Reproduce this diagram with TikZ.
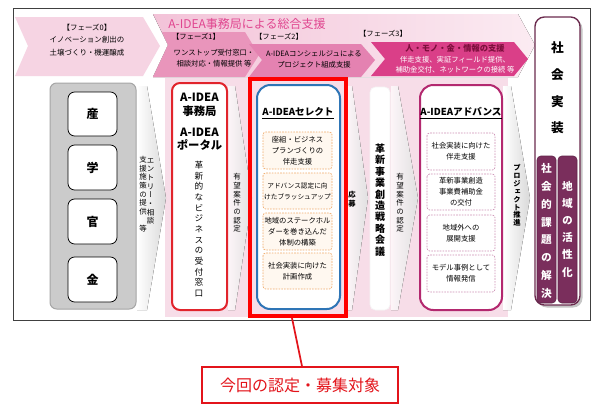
\documentclass[tikz,border=0pt]{standalone}
\usepackage{fontspec}
\setmainfont{Noto Sans CJK JP}
\newfontfamily\vjp[RawFeature=+vert]{Noto Sans CJK JP}

\definecolor{frameln}{HTML}{404040}
\definecolor{phzeropink}{HTML}{F6D4E3}
\definecolor{bannerL}{HTML}{F3C3D8}
\definecolor{bannerR}{HTML}{FBEBF2}
\definecolor{phonepink}{HTML}{E995BB}
\definecolor{phtwopink}{HTML}{E482B1}
\definecolor{phthreepink}{HTML}{DA3F88}
\definecolor{phthreedark}{HTML}{7C0F3C}
\definecolor{titlepink}{HTML}{E0458F}
\definecolor{bgpink}{HTML}{F7DDE8}
\definecolor{greybox}{HTML}{CBCBCB}
\definecolor{greyline}{HTML}{A5A5A5}
\definecolor{jimured}{HTML}{E1242C}
\definecolor{selblue}{HTML}{2E75B6}
\definecolor{seldash}{HTML}{F0AA6A}
\definecolor{selfill}{HTML}{FFF8F0}
\definecolor{advmag}{HTML}{B3286F}
\definecolor{advdash}{HTML}{CC8EB4}
\definecolor{implline}{HTML}{6B2B4E}
\definecolor{implfill}{HTML}{7A2E5C}
\definecolor{hlred}{HTML}{FF0000}
\definecolor{callred}{HTML}{E3141B}

\tikzset{
  ptxt/.style={inner sep=0.75pt, align=center, font=\fontsize{5.5}{8.2}\selectfont},
  vtxt/.style={inner sep=0.75pt, align=center, font=\vjp\fontsize{5.6}{6.5}\selectfont},
  boxtxt/.style={inner sep=0.75pt, align=center, font=\fontsize{5.5}{8.2}\selectfont},
  sepwhite/.style={left color=white, right color=gray!30},
  seppink/.style={left color=white!70!bgpink, right color=gray!24},
  dashbox/.style={rounded corners=2pt, dash pattern=on 1.2pt off 0.9pt, line width=0.5},
}

\begin{document}
\begin{tikzpicture}[x=0.75pt,y=0.75pt,yscale=-1,xscale=1]
\path[use as bounding box, fill=white] (0,0) rectangle (600,411);

%Shape: Rectangle (frame)
\draw[color=frameln, line width=0.75] (13,8) rectangle (590,320);

%Shape: Polygon (phase 0)
\fill[phzeropink] (15,17) -- (143,17) -- (160,46) -- (143,76) -- (15,76) -- (28,46) -- cycle;
%Shape: Polygon (banner)
\fill[left color=bannerL, right color=bannerR] (153,14) -- (518,14) -- (535,45) -- (518,77) -- (153,77) -- (168,45) -- cycle;
%Shape: Polygon (phase 1)
\fill[phonepink] (162,32) -- (245,32) -- (259,55) -- (245,77) -- (153,77) -- (168,45) -- cycle;
%Shape: Polygon (phase 2)
\fill[phtwopink] (249,44) -- (361,44) -- (375,60) -- (361,77) -- (249,77) -- (262,60) -- cycle;
%Shape: Polygon (phase 3)
\fill[phthreepink] (371,42) -- (514,42) -- (528,59) -- (514,76) -- (371,76) -- (385,59) -- cycle;

% Text Node
\draw (247,24) node (bannertitle) [inner sep=0.75pt, font=\fontsize{9}{10}\selectfont, text=titlepink] {A-IDEA事務局による総合支援};
% Text Node
\draw (87,40) node (phzerotxt) [ptxt, font=\fontsize{5.6}{9.3}\selectfont] {【フェーズ0】\\イノベーション創出の\\土壌づくり・機運醸成};
% Text Node
\draw (196,37) node (phonelbl) [ptxt] {【フェーズ1】};
% Text Node
\draw (214,58.5) node (phonetxt) [ptxt] {ワンストップ受付窓口・\\相談対応・情報提供 等};
% Text Node
\draw (279,37) node (phtwolbl) [ptxt] {【フェーズ2】};
% Text Node
\draw (314,59.5) node (phtwotxt) [ptxt] {A-IDEAコンシェルジュによる\\プロジェクト組成支援};
% Text Node
\draw (383,34) node (phthreelbl) [ptxt] {【フェーズ3】};
% Text Node
\draw (455,48) node (phthreehead) [ptxt, text=phthreedark, font=\bfseries\fontsize{6.2}{7}\selectfont] {人・モノ・金・情報の支援};
% Text Node
\draw (455,65) node (phthreetxt) [ptxt, text=white, font=\fontsize{5.5}{7.5}\selectfont] {伴走支援、実証フィールド提供、\\補助金交付、ネットワークの接続 等};

%Shape: Rectangle (pink ground)
\fill[bgpink] (165,78) rectangle (508,317);

%Shape: Polygon (step arrows)
\fill[sepwhite] (137,86) -- (147,86) -- (166,198) -- (147,310) -- (137,310) -- cycle;
\fill[seppink] (228,86) -- (235,86) -- (252,198) -- (235,310) -- (228,310) -- cycle;
\fill[seppink] (347,86) -- (352,86) -- (368,198) -- (352,310) -- (347,310) -- cycle;
\fill[seppink] (391,86) -- (398,86) -- (418,198) -- (398,310) -- (391,310) -- cycle;
\fill[sepwhite] (503,86) -- (511,86) -- (530,198) -- (511,310) -- (503,310) -- cycle;

%Shape: Rectangle (sangakukankin)
\draw[fill=greybox, draw=greyline, line width=0.75, rounded corners=5pt] (50,83) rectangle (136,309);
\draw[fill=white, line width=0.6, rounded corners=5pt] (68,92) rectangle (117,136);
\draw[fill=white, line width=0.6, rounded corners=5pt] (68,145) rectangle (117,190);
\draw[fill=white, line width=0.6, rounded corners=5pt] (68,199) rectangle (117,244);
\draw[fill=white, line width=0.6, rounded corners=5pt] (68,257) rectangle (117,302);
% Text Node
\draw (92.5,114) node (san) [font=\bfseries\fontsize{9}{10}\selectfont] {産};
% Text Node
\draw (92.5,167.5) node (gaku) [font=\bfseries\fontsize{9}{10}\selectfont] {学};
% Text Node
\draw (92.5,221.5) node (kan) [font=\bfseries\fontsize{9}{10}\selectfont] {官};
% Text Node
\draw (92.5,279.5) node (kin) [font=\bfseries\fontsize{9}{10}\selectfont] {金};

% Text Node
\draw (150.5,157) node (entry) [vtxt, anchor=north] {エ\\ン\\ト\\リ\\ー\\・\\相\\談};
% Text Node
\draw (143,155) node (shisaku) [vtxt, anchor=north] {支\\援\\施\\策\\の\\提\\供\\　\\等};

%Shape: Rectangle (jimukyoku)
\draw[fill=white, draw=jimured, line width=1.5, rounded corners=6pt] (172,83) rectangle (227,310);
% Text Node
\draw (199.5,105) node (jimu) [inner sep=0.75pt, align=center, font=\bfseries\fontsize{8.5}{10.5}\selectfont] {A-IDEA\\事務局};
% Text Node
\draw (199.5,139.5) node (portal) [inner sep=0.75pt, align=center, font=\bfseries\fontsize{8.5}{10}\selectfont] {A-IDEA\\ポータル};
% Text Node
\draw (199,229) node (madoguchi) [vtxt, font=\vjp\fontsize{6.5}{8}\selectfont] {革\\新\\的\\な\\ビ\\ジ\\ネ\\ス\\の\\受\\付\\窓\\口};

% Text Node
\draw (237,203) node (ninteione) [vtxt] {有\\望\\案\\件\\の\\認\\定};

%Shape: Rectangle (select)
\draw[fill=white, draw=selblue, line width=1.5, rounded corners=10pt] (257,85) rectangle (340,309);
% Text Node
\draw (298,113) node (seltitle) [inner sep=0.75pt, font=\bfseries\fontsize{7.2}{8}\selectfont] {\underline{A-IDEAセレクト}};
\draw[dashbox, draw=seldash, fill=selfill] (263,132) rectangle (332,169);
\draw[dashbox, draw=seldash, fill=selfill] (263,173) rectangle (332,209);
\draw[dashbox, draw=seldash, fill=selfill] (263,213) rectangle (332,250);
\draw[dashbox, draw=seldash, fill=selfill] (263,253) rectangle (332,289);
% Text Node
\draw (297.5,150.5) node (selone) [boxtxt] {座組・ビジネス\\プランづくりの\\伴走支援};
% Text Node
\draw (297.5,191) node (seltwo) [boxtxt, font=\fontsize{5}{8.2}\selectfont] {アドバンス認定に向\\けたブラッシュアップ};
% Text Node
\draw (297.5,231.5) node (selthree) [boxtxt] {地域のステークホル\\ダーを巻き込んだ\\体制の構築};
% Text Node
\draw (297.5,271) node (selfour) [boxtxt] {社会実装に向けた\\計画作成};

%Shape: Rectangle (highlight)
\draw (298,197.5) node (hl) [draw=hlred, line width=3pt, minimum width=72pt, minimum height=177.75pt, inner sep=0pt] {};

% Text Node
\draw (352,199) node (oubo) [vtxt, font=\vjp\bfseries\fontsize{5.5}{6.8}\selectfont] {応\\募};

%Shape: Rectangle (kaigi)
\draw[fill=white, draw=white!92!gray, line width=0.5, rounded corners=4pt] (370,87) rectangle (390,310);
% Text Node
\draw (380,200) node (senryaku) [vtxt, font=\vjp\bfseries\fontsize{7.5}{8.6}\selectfont] {革\\新\\事\\業\\創\\造\\戦\\略\\会\\議};

% Text Node
\draw (400,203) node (ninteitwo) [vtxt] {有\\望\\案\\件\\の\\認\\定};

%Shape: Rectangle (advance)
\draw[fill=white, draw=advmag, line width=1.5, rounded corners=10pt] (420,85) rectangle (502,310);
% Text Node
\draw (461,113) node (advtitle) [inner sep=0.75pt, font=\bfseries\fontsize{7.2}{8}\selectfont] {\underline{A-IDEAアドバンス}};
\draw[dashbox, draw=advdash, fill=white] (427,133) rectangle (495,170);
\draw[dashbox, draw=advdash, fill=white] (427,174) rectangle (495,210);
\draw[dashbox, draw=advdash, fill=white] (427,215) rectangle (495,251);
\draw[dashbox, draw=advdash, fill=white] (427,255) rectangle (495,292);
% Text Node
\draw (461,151.5) node (advone) [boxtxt] {社会実装に向けた\\伴走支援};
% Text Node
\draw (461,192) node (advtwo) [boxtxt] {革新事業創造\\事業費補助金\\の交付};
% Text Node
\draw (461,233) node (advthree) [boxtxt] {地域外への\\展開支援};
% Text Node
\draw (461,273.5) node (advfour) [boxtxt] {モデル事例として\\情報発信};

% Text Node
\draw (517,195.5) node (suishin) [vtxt, font=\vjp\bfseries\fontsize{5.5}{5.9}\selectfont] {プ\\ロ\\ジ\\ェ\\ク\\ト\\推\\進};

%Shape: Rectangle (shakai jisso)
\fill[gray!45, rounded corners=7pt] (537.5,19.5) rectangle (582.5,307.5);
\draw[fill=white, draw=implline, line width=1, rounded corners=7pt] (535,17) rectangle (580,305);
% Text Node
\draw (557.5,88) node (jisso) [vtxt, font=\vjp\bfseries\fontsize{9.5}{20}\selectfont] {社\\会\\実\\装};
\draw[fill=implfill, draw=implfill!80!black, line width=0.5, rounded corners=3pt] (537,156) rectangle (556,303);
\draw[fill=implfill, draw=implfill!80!black, line width=0.5, rounded corners=3pt] (558,156) rectangle (577,303);
% Text Node
\draw (546.5,231) node (kadai) [vtxt, text=white, font=\vjp\bfseries\fontsize{8}{13.4}\selectfont] {社\\会\\的\\課\\題\\の\\解\\決};
% Text Node
\draw (567.5,229) node (kassei) [vtxt, text=white, font=\vjp\bfseries\fontsize{8}{12.9}\selectfont] {地\\域\\の\\活\\性\\化};

%Shape: Rectangle (callout)
\draw (300,385) node (callout) [draw=callred, line width=1.2, fill=white, minimum width=147pt, minimum height=27pt, inner sep=0pt, text=callred, font=\fontsize{12}{14}\selectfont] {今回の認定・募集対象};
%Straight Lines
\draw[color=callred, line width=1.3] ([xshift=-4.5pt]hl.south) -- ([xshift=1.5pt]callout.north);

\end{tikzpicture}
\end{document}
